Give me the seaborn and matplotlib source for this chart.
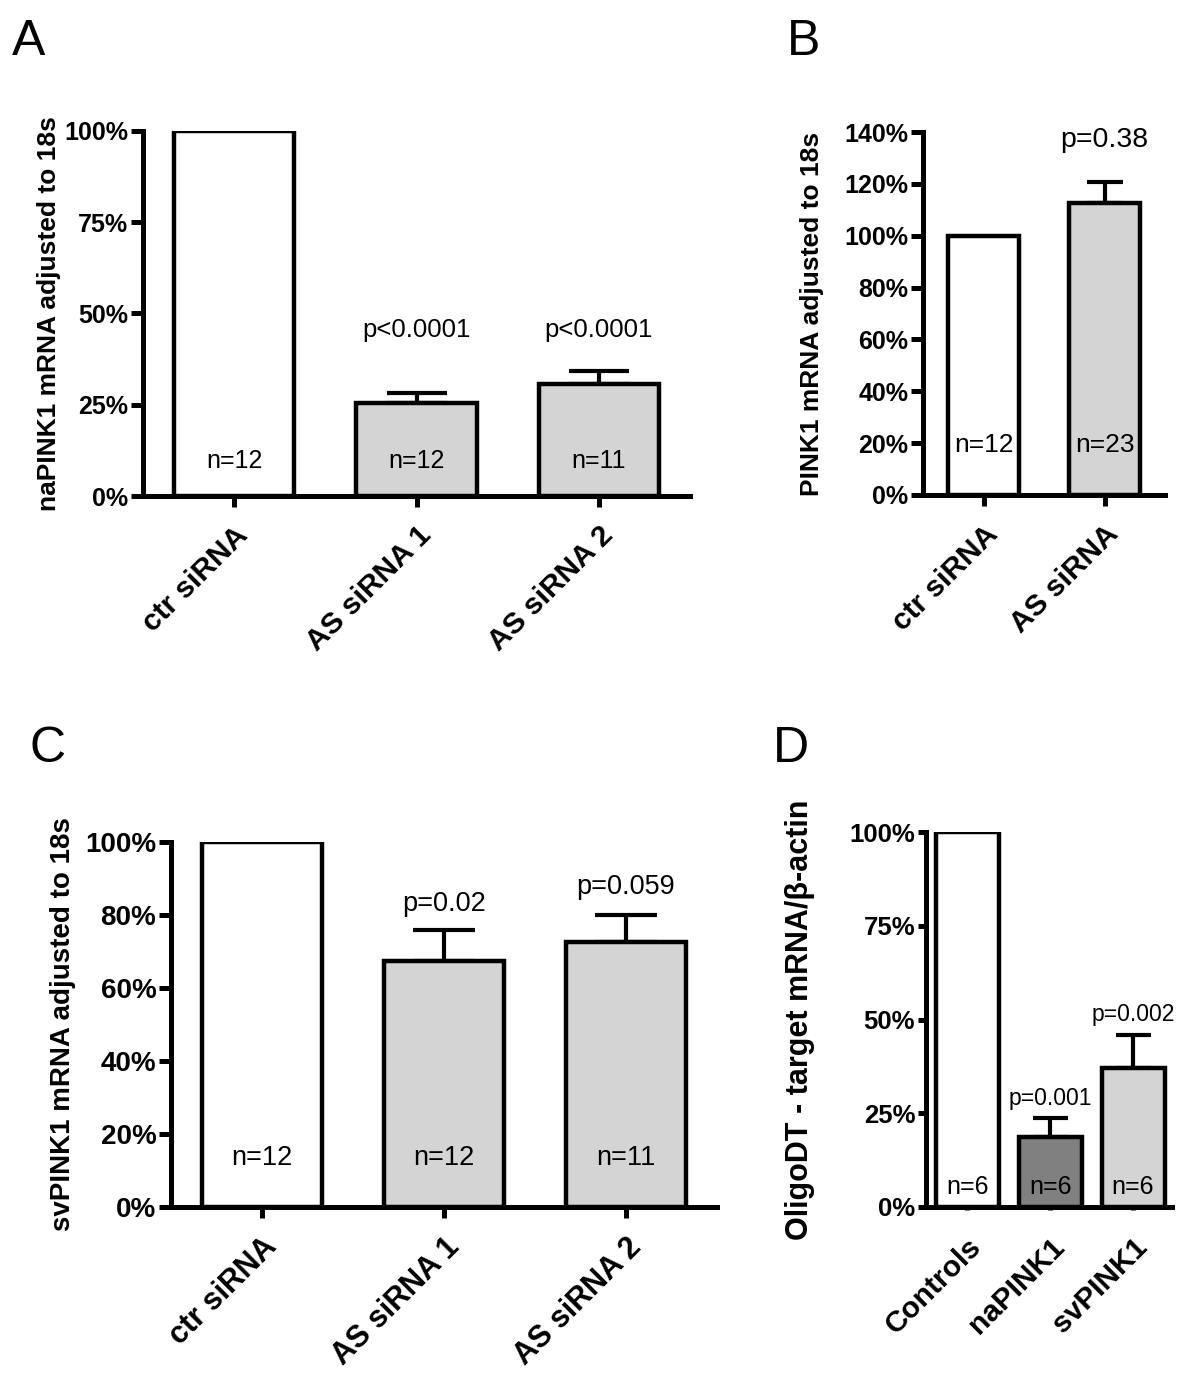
import numpy as np
import pandas as pd
import matplotlib
matplotlib.use("Agg")
import matplotlib.pyplot as plt
import seaborn as sns

# ---------------- data ----------------
# Panel A
a_cats = ["ctr siRNA", "AS siRNA 1", "AS siRNA 2"]
a_vals = [100, 25.6, 30.7]
a_err = [0, 2.7, 3.6]
a_n = ["n=12", "n=12", "n=11"]
a_p = ["", "p<0.0001", "p<0.0001"]
a_colors = ["white", "#d4d4d4", "#d4d4d4"]
a_yticks = [0, 25, 50, 75, 100]
a_ylabel = "naPINK1 mRNA adjusted to 18s"

# Panel B
b_cats = ["ctr siRNA", "AS siRNA"]
b_vals = [100, 112.6]
b_err = [0, 8.0]
b_n = ["n=12", "n=23"]
b_p = ["", "p=0.38"]
b_colors = ["white", "#d4d4d4"]
b_yticks = [0, 20, 40, 60, 80, 100, 120, 140]
b_ylabel = "PINK1 mRNA adjusted to 18s"

# Panel C
c_cats = ["ctr siRNA", "AS siRNA 1", "AS siRNA 2"]
c_vals = [100, 67.4, 72.5]
c_err = [0, 8.4, 7.5]
c_n = ["n=12", "n=12", "n=11"]
c_p = ["", "p=0.02", "p=0.059"]
c_colors = ["white", "#d4d4d4", "#d4d4d4"]
c_yticks = [0, 20, 40, 60, 80, 100]
c_ylabel = "svPINK1 mRNA adjusted to 18s"

# Panel D
d_cats = ["Controls", "naPINK1", "svPINK1"]
d_vals = [100, 18.8, 37.1]
d_err = [0, 4.9, 8.7]
d_n = ["n=6", "n=6", "n=6"]
d_p = ["", "p=0.001", "p=0.002"]
d_colors = ["white", "#808080", "#d4d4d4"]
d_yticks = [0, 25, 50, 75, 100]
d_ylabel = "OligoDT - target mRNA/\u03b2-actin"

# ---------------- style ----------------
sns.set_theme(style="ticks")
plt.rcParams['font.family'] = ['Liberation Sans', 'DejaVu Sans']

W, H = 1200, 1376
fig = plt.figure(figsize=(W / 100, H / 100), dpi=100)


def px_axes(left, top, right, bottom):
    return fig.add_axes([left / W, 1 - bottom / H, (right - left) / W, (bottom - top) / H])


def panel(ax, cats, vals, errs, colors, ymax, yticks, ylabel, nlab, ny, plab, py,
          width, capsize, ytfs, xtfs, ylfs, txtfs, pfs, xtick_len, ytick_len,
          label_x, xlim, xpad=10):
    df = pd.DataFrame({"cat": cats, "val": vals})
    sns.barplot(data=df, x="cat", y="val", hue="cat",
                palette=dict(zip(cats, colors)), legend=False, width=width,
                edgecolor="black", linewidth=3.2, errorbar=None, saturation=1,
                ax=ax)
    xs = np.arange(len(cats))
    v = np.array(vals, dtype=float)
    e = np.array(errs, dtype=float)
    m = e > 0
    ax.errorbar(xs[m], v[m], yerr=[np.zeros(m.sum()), e[m]], fmt='none',
                ecolor='black', elinewidth=3.0, capsize=capsize, capthick=3.0,
                zorder=0.5)
    ax.set_ylim(0, ymax)
    ax.set_xlim(*xlim)
    for s in ["top", "right"]:
        ax.spines[s].set_visible(False)
    for s in ["left", "bottom"]:
        ax.spines[s].set_linewidth(3.6)
        ax.spines[s].set_color("black")
    ax.set_yticks(yticks)
    ax.set_yticklabels([f"{t}%" for t in yticks], fontweight="bold", fontsize=ytfs)
    ax.set_xticks(xs)
    ax.set_xticklabels(cats, rotation=45, ha="right", va="top",
                       rotation_mode="anchor", fontweight="bold", fontsize=xtfs)
    ax.tick_params(axis="y", direction="out", length=ytick_len, width=3.6,
                   pad=2, colors="black")
    ax.tick_params(axis="x", direction="out", length=xtick_len, width=3.6,
                   pad=xpad, colors="black")
    ax.set_xlabel("")
    ax.set_ylabel(ylabel, fontweight="bold", fontsize=ylfs, color="black")
    ax.yaxis.set_label_coords(label_x, 0.5)
    for i in range(len(cats)):
        ax.text(xs[i], ny, nlab[i], ha="center", va="center",
                fontsize=txtfs, color="black")
        if plab[i]:
            ax.text(xs[i], py[i], plab[i], ha="center", va="center",
                    fontsize=pfs, color="black", clip_on=False)


# A
axA = px_axes(143, 131, 690, 496)
panel(axA, a_cats, a_vals, a_err, a_colors, 100, a_yticks, a_ylabel,
      a_n, 9.6, a_p, [None, 45.5, 45.5], width=0.66, capsize=21.6,
      ytfs=18, xtfs=21.5, ylfs=19, txtfs=18, pfs=18.5, xtick_len=8,
      ytick_len=8.6, label_x=(61 - 143) / (690 - 143), xlim=(-0.5, 2.5))

# B
axB = px_axes(923, 132, 1165, 495)
panel(axB, b_cats, b_vals, b_err, b_colors, 140, b_yticks, b_ylabel,
      b_n, 19.3, b_p, [None, 137], width=0.58, capsize=13.3,
      ytfs=18, xtfs=21.5, ylfs=19, txtfs=19, pfs=20.5, xtick_len=8,
      ytick_len=8.6, label_x=(824 - 923) / (1165 - 923), xlim=(-0.5, 1.5))

# C
axC = px_axes(171, 842, 717, 1207)
panel(axC, c_cats, c_vals, c_err, c_colors, 100, c_yticks, c_ylabel,
      c_n, 13.4, c_p, [None, 83, 87.8], width=0.66, capsize=22.3,
      ytfs=20, xtfs=22, ylfs=20, txtfs=19.5, pfs=19.5, xtick_len=8,
      ytick_len=8.6, label_x=(76 - 171) / (717 - 171), xlim=(-0.5, 2.5))

# D
axD = px_axes(926, 832, 1172, 1207)
panel(axD, d_cats, d_vals, d_err, d_colors, 100, d_yticks, d_ylabel,
      d_n, 5.3, d_p, [None, 28.9, 51.4], width=0.76, capsize=12.6,
      ytfs=18.5, xtfs=21.5, ylfs=22, txtfs=18, pfs=16.5, xtick_len=2.5,
      ytick_len=5.8, label_x=(815 - 926) / (1172 - 926), xlim=(-0.5, 2.47),
      xpad=16)

# Panel letters
for letter, x, y in [("A", 12, 55), ("B", 787, 55), ("C", 30, 762), ("D", 773, 762)]:
    fig.text(x / W, 1 - y / H, letter, fontsize=36, ha="left", va="baseline",
             color="black")

fig.savefig("out.png", dpi=100, facecolor="white")
